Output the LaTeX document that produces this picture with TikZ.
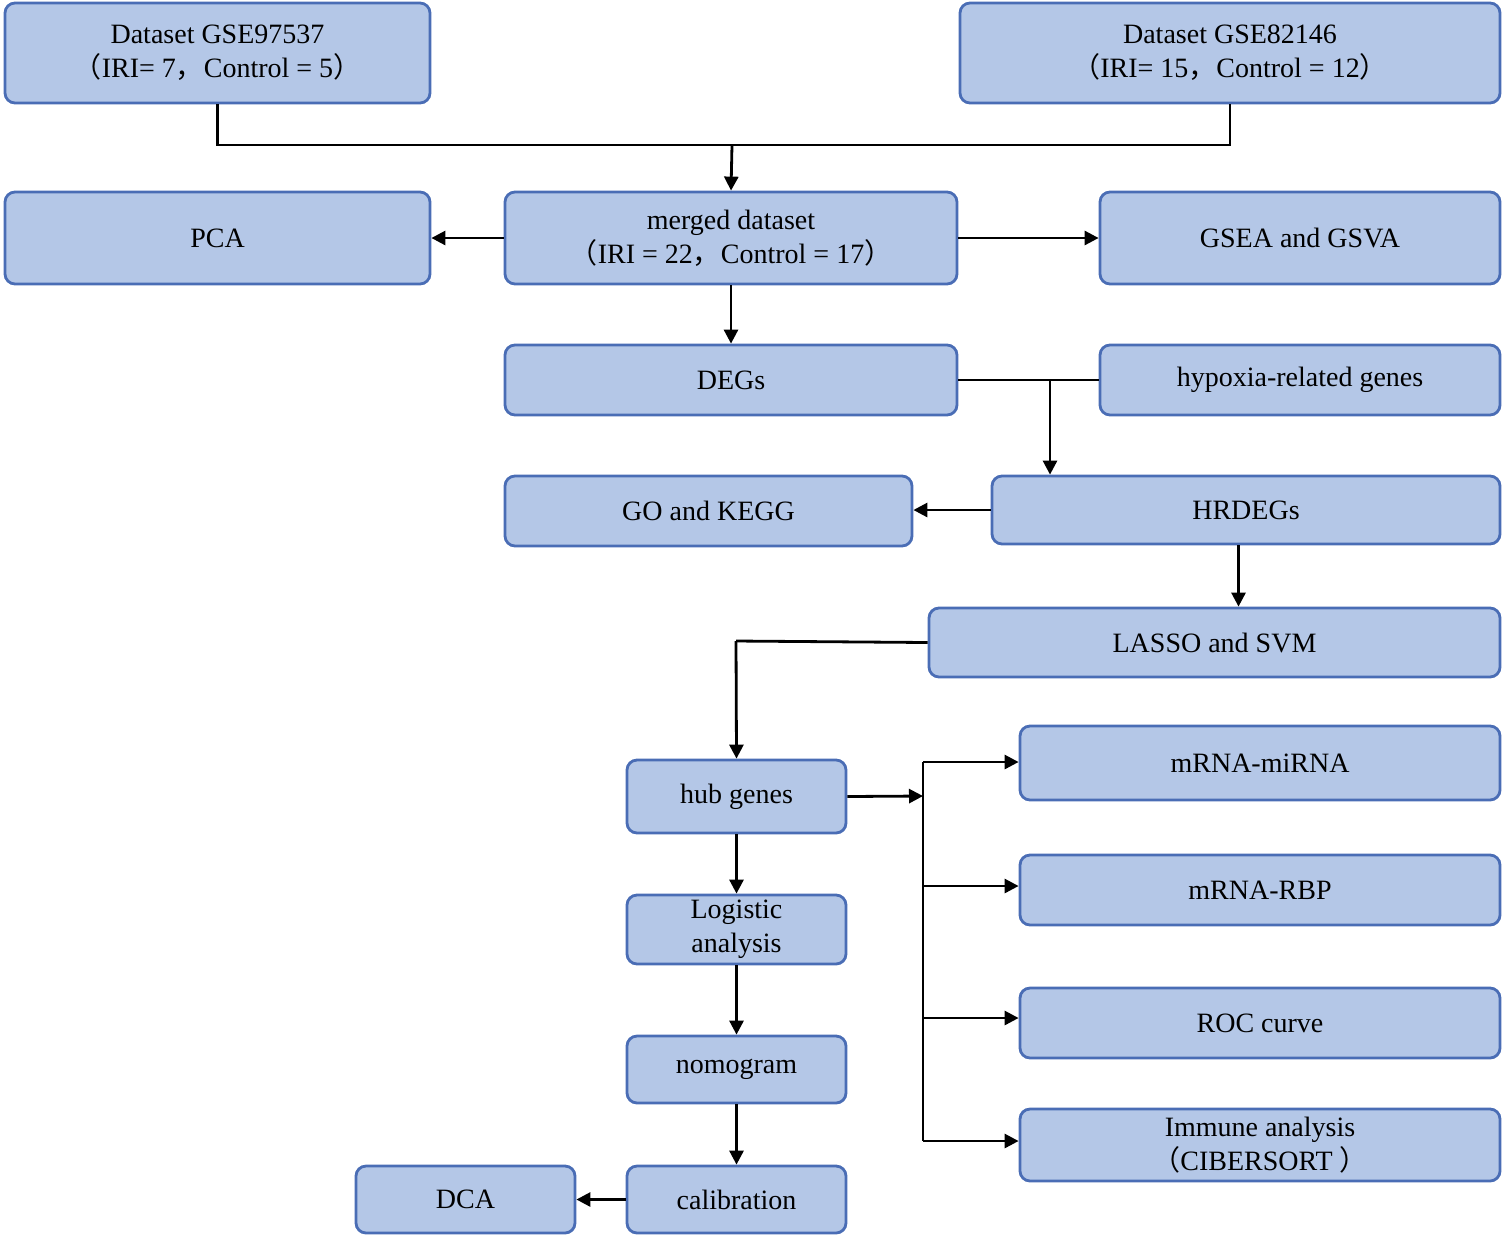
\documentclass[tikz,border=0pt]{standalone}
\usepackage{fontspec}
\setmainfont{Liberation Serif}
\newfontfamily\cjk{Noto Sans CJK SC}
\usetikzlibrary{arrows.meta}
\definecolor{boxfill}{HTML}{B4C7E7}
\definecolor{boxline}{HTML}{4A6DB5}
\newcommand{\fl}{{\cjk （}}
\newcommand{\fr}{{\cjk ）}}
\newcommand{\fc}{{\cjk ，}}
\begin{document}
\begin{tikzpicture}[x=0.5pt,y=-0.5pt,
  box/.style={draw=boxline,fill=boxfill,line width=1.4pt,rounded corners=5pt,inner sep=0pt,align=center,font=\fontsize{14}{17}\selectfont},
  line/.style={line width=1.4pt},
  arr/.style={line width=1.4pt,-{Triangle[length=7pt,width=7pt]}}]
\useasboundingbox (0,0) rectangle (1502,1238);
\node[box,minimum width=212.5pt,minimum height=50pt] (d1) at (217.5,53) {Dataset GSE97537\\\fl IRI= 7\fc Control = 5\fr};
\node[box,minimum width=270pt,minimum height=50pt] (d2) at (1230,53) {Dataset GSE82146\\\fl IRI= 15\fc Control = 12\fr};
\node[box,minimum width=212.5pt,minimum height=46pt] (pca) at (217.5,238) {PCA};
\node[box,minimum width=226pt,minimum height=46pt] (mer) at (731,238) {merged dataset\\\fl IRI = 22\fc Control = 17\fr};
\node[box,minimum width=200pt,minimum height=46pt] (gsea) at (1300,238) {GSEA and GSVA};
\node[box,minimum width=226pt,minimum height=35pt] (deg) at (731,380) {DEGs};
\node[box,minimum width=200pt,minimum height=35pt] (hyp) at (1300,380) {hypoxia-related genes};
\node[box,minimum width=203.5pt,minimum height=35pt] (go) at (708.5,511) {GO and KEGG};
\node[box,minimum width=254pt,minimum height=34pt] (hrd) at (1246,510) {HRDEGs};
\node[box,minimum width=285.5pt,minimum height=34.5pt] (las) at (1214.5,642.5) {LASSO and SVM};
\node[box,minimum width=109.5pt,minimum height=36.5pt] (hub) at (736.5,796.5) {hub genes};
\node[box,minimum width=109.5pt,minimum height=34.5pt] (log) at (736.5,929.5) {Logistic\\analysis};
\node[box,minimum width=109.5pt,minimum height=33.5pt] (nom) at (736.5,1069.5) {nomogram};
\node[box,minimum width=109.5pt,minimum height=33.5pt] (cal) at (736.5,1199.5) {calibration};
\node[box,minimum width=109.5pt,minimum height=33.5pt] (dca) at (465.5,1199.5) {DCA};
\node[box,minimum width=240pt,minimum height=37pt] (mir) at (1260,763) {mRNA-miRNA};
\node[box,minimum width=240pt,minimum height=35pt] (rbp) at (1260,890) {mRNA-RBP};
\node[box,minimum width=240pt,minimum height=35pt] (roc) at (1260,1023) {ROC curve};
\node[box,minimum width=240pt,minimum height=36pt] (imm) at (1260,1145) {Immune analysis\\\fl CIBERSORT \fr};
\coordinate (bus) at (732,145);
\coordinate (j1) at (1050,380);
\coordinate (j2) at (736,641);
\coordinate (j3) at (923,796);
\coordinate (vt) at (923,762);
\coordinate (vb) at (923,1141);
\draw[line] (d1.south) |- (bus) -| (d2.south);
\draw[arr] (bus) -- (mer.north);
\draw[arr] (mer.west) -- (pca.east);
\draw[arr] (mer.east) -- (gsea.east-|gsea.west);
\draw[arr] (mer.south) -- (deg.north);
\draw[line] (deg.east) -- (hyp.west);
\draw[arr] (j1) -- (j1|-hrd.north);
\draw[arr] (hrd.west) -- (hrd.west-|go.east);
\draw[arr] (hrd.south-|las.north) ++(24,0) coordinate (t) (hrd.south-|t) -- (las.north-|t);
\draw[line] (las.west) -- (j2);
\draw[arr] (j2) -- (hub.north);
\draw[arr] (hub.east) -- (j3);
\draw[line] (vt) -- (vb);
\draw[arr] (vt) -- (vt-|mir.west);
\draw[arr] (923,886) -- (rbp.west|-0,886);
\draw[arr] (923,1018) -- (roc.west|-0,1018);
\draw[arr] (vb) -- (vb-|imm.west);
\draw[arr] (hub.south) -- (log.north);
\draw[arr] (log.south) -- (nom.north);
\draw[arr] (nom.south) -- (cal.north);
\draw[arr] (cal.west) -- (dca.east);
\end{tikzpicture}
\end{document}
